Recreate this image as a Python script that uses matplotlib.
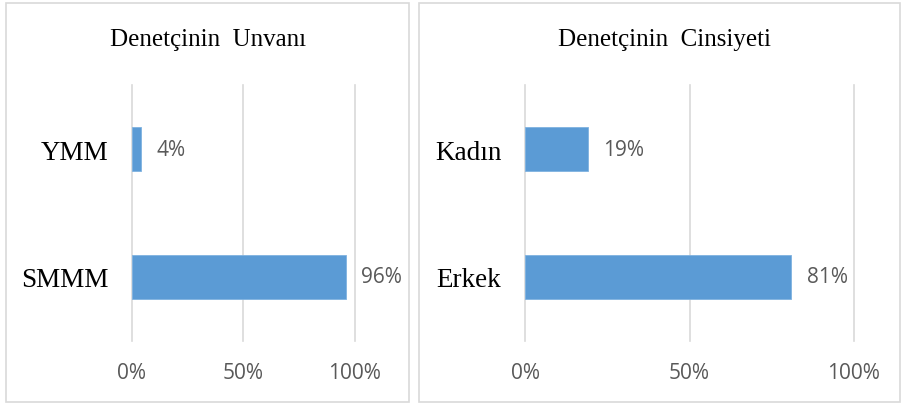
import matplotlib.pyplot as plt
from matplotlib.patches import Rectangle

# data
unvan_labels = ['SMMM', 'YMM']
unvan_values = [0.96, 0.04]
cinsiyet_labels = ['Erkek', 'Kadın']
cinsiyet_values = [0.81, 0.19]
x_ticks = [0, 0.5, 1.0]
x_tick_labels = ['0%', '50%', '100%']

bar_color = '#5B9BD5'
grid_color = '#D9D9D9'
text_gray = '#595959'

fig = plt.figure(figsize=(9.03, 4.06), dpi=100)

# panel frames
fig.patches.append(Rectangle((6 / 903, 3 / 406), 403 / 903, 399 / 406, transform=fig.transFigure,
                             fill=False, edgecolor=grid_color, linewidth=1.2))
fig.patches.append(Rectangle((419 / 903, 3 / 406), 481 / 903, 399 / 406, transform=fig.transFigure,
                             fill=False, edgecolor=grid_color, linewidth=1.2))


def draw_panel(ax, labels, values, title, title_x):
    ax.barh(range(len(labels)), values, height=0.35, color=bar_color, edgecolor='#7FB2E0', linewidth=0.6, zorder=3)
    ax.set_xlim(0, 1)
    ax.set_ylim(-0.5, 1.5)
    for s in ax.spines.values():
        s.set_visible(False)
    for t in x_ticks:
        ax.axvline(t, color=grid_color, linewidth=1.2, zorder=1, clip_on=False)
    ax.set_xticks(x_ticks)
    ax.set_xticklabels(x_tick_labels, fontfamily='Open Sans', fontsize=15, color=text_gray)
    ax.set_yticks(range(len(labels)))
    ax.set_yticklabels(labels, fontfamily='Liberation Serif', fontsize=19.5, color='black')
    ax.tick_params(axis='x', length=0, pad=15)
    ax.tick_params(axis='y', length=0, pad=17)
    for i, v in enumerate(values):
        ax.annotate('%d%%' % round(v * 100), (v, i), xytext=(11, 0), textcoords='offset points',
                    va='center', ha='left', fontfamily='Open Sans', fontsize=15, color=text_gray)
    fig.text(title_x, 1 - 40 / 406, title, ha='center', va='center',
             fontfamily='Liberation Serif', fontsize=18, color='black')


ax1 = fig.add_axes([132 / 903, 1 - 342 / 406, 223 / 903, 256 / 406])
draw_panel(ax1, unvan_labels, unvan_values, 'Denetçinin  Unvanı', 208 / 903)

ax2 = fig.add_axes([525 / 903, 1 - 342 / 406, 329 / 903, 256 / 406])
draw_panel(ax2, cinsiyet_labels, cinsiyet_values, 'Denetçinin  Cinsiyeti', 665 / 903)

plt.savefig('out.png', dpi=100)
